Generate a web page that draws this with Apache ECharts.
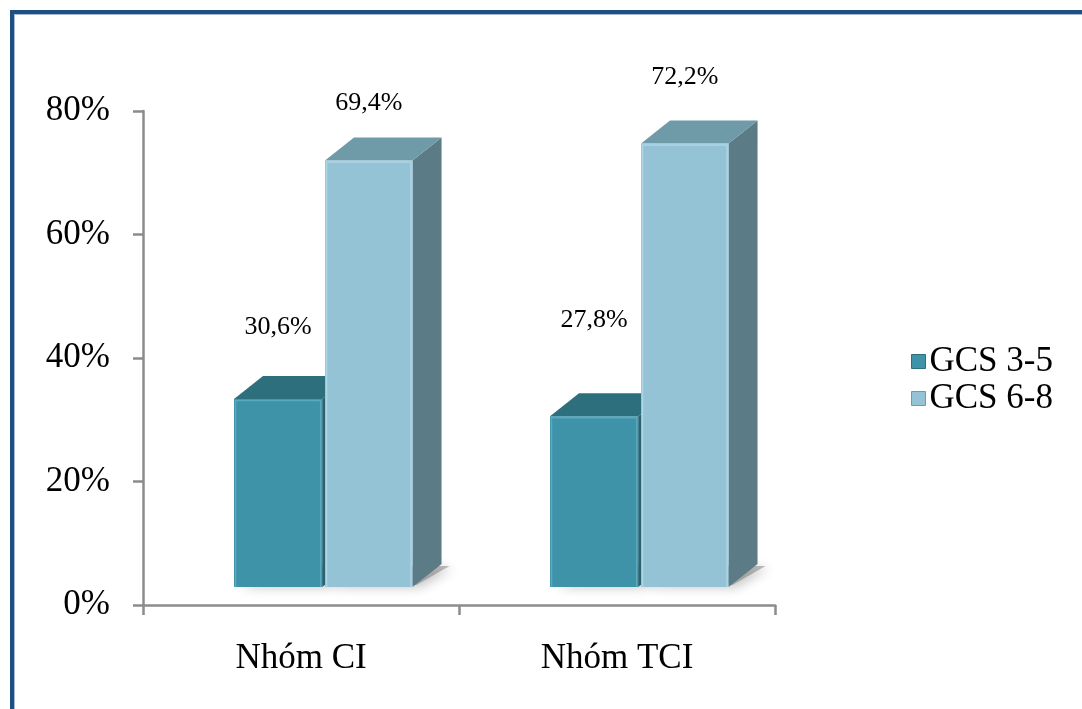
<!DOCTYPE html>
<html>
<head>
<meta charset="utf-8">
<script src="https://cdn.jsdelivr.net/npm/echarts@6/dist/echarts.min.js"></script>
<style>
  html, body { margin: 0; padding: 0; background: #ffffff; }
  #chart { width: 1082px; height: 709px; }
</style>
</head>
<body>
<div id="chart"></div>
<script>
// Groups on the category axis
const categories = ['Nhóm CI', 'Nhóm TCI'];
// Series names
const seriesNames = ['GCS 3-5', 'GCS 6-8'];
// Shares per group (fraction of patients)
const gcs35 = [0.306, 0.278];
const gcs68 = [0.694, 0.722];
// Value axis tick labels
const yTicks = ['0%', '20%', '40%', '60%', '80%'];

const SERIF = '"Liberation Serif", "DejaVu Serif", serif';

// Face colours of the prism bars: front, top, side
const palette = [
  { front: '#3e93a9', top: '#2e6f7e', side: '#2a6272', edge: '#5fb0c4', legend: '#3e93a9' },
  { front: '#94c3d6', top: '#6f9aa7', side: '#5b7b86', edge: '#b4dbe8', legend: '#94c3d6' }
];

// Bar geometry as fractions of the category band
const barLayout = [
  { left: -0.212, width: 0.279 },
  { left: 0.076, width: 0.277 }
];
const DEPTH_X = 29, DEPTH_Y = -23, FLOOR_LIFT = 18, FRONT_SCALE = 0.995;
// Vertical distance of each value label above its bar's front top edge
const labelLift = [[72, 96], [57, 66]];

function fmtPct(v) {
  return (v * 100).toFixed(1).replace('.', ',') + '%';
}

function makeRender(sIdx) {
  return function (params, api) {
    const cat = api.value(0);
    const val = api.value(1);
    const pTop = api.coord([cat, val]);
    const pZero = api.coord([cat, 0]);
    const band = api.size([1, 0])[0];
    const lay = barLayout[sIdx];
    const col = palette[sIdx];

    const xL = pZero[0] + lay.left * band;
    const xR = xL + lay.width * band;
    const yB = pZero[1] - FLOOR_LIFT;
    const yT = yB - (pZero[1] - pTop[1]) * FRONT_SCALE;
    const dx = DEPTH_X, dy = DEPTH_Y;

    const children = [];
    // soft floor shadow
    children.push({
      type: 'polygon',
      shape: { points: [[xL + 4, yB - 2], [xR + 4, yB - 2], [xR + dx + 8, yB + dy + 2], [xL + dx + 8, yB + dy + 2]] },
      style: { fill: 'rgba(110,110,110,0.45)', shadowBlur: 12, shadowColor: 'rgba(0,0,0,0.55)', shadowOffsetX: 3, shadowOffsetY: 2 },
      silent: true
    });
    // side face
    children.push({
      type: 'polygon',
      shape: { points: [[xR, yT], [xR + dx, yT + dy], [xR + dx, yB + dy], [xR, yB]] },
      style: { fill: col.side }
    });
    // top face
    children.push({
      type: 'polygon',
      shape: { points: [[xL, yT], [xL + dx, yT + dy], [xR + dx, yT + dy], [xR, yT]] },
      style: { fill: col.top }
    });
    // front face
    children.push({
      type: 'rect',
      shape: { x: xL, y: yT, width: xR - xL, height: yB - yT },
      style: { fill: col.front }
    });
    // bevel highlights along the front edges
    children.push({
      type: 'polyline',
      shape: { points: [[xL + 1.5, yB], [xL + 1.5, yT + 1.5], [xR - 1.5, yT + 1.5], [xR - 1.5, yB]] },
      style: { stroke: col.edge, lineWidth: 1.5, fill: null, opacity: 0.8 }
    });
    // value label
    children.push({
      type: 'text',
      style: {
        x: (xL + xR) / 2,
        y: yT - labelLift[sIdx][cat],
        text: fmtPct(val),
        font: '26px ' + SERIF,
        fill: '#000000',
        align: 'center',
        verticalAlign: 'middle'
      }
    });
    return { type: 'group', children: children };
  };
}

const seriesData = [gcs35, gcs68];

const chart = echarts.init(document.getElementById('chart'), null, { renderer: 'canvas' });
chart.setOption({
  animation: false,
  backgroundColor: '#ffffff',
  grid: { left: 143, right: 307, top: 111, bottom: 104, containLabel: false },
  xAxis: {
    type: 'category',
    data: categories,
    axisLine: { lineStyle: { color: '#8c8c8c', width: 2.5 } },
    axisTick: { show: true, length: 10, alignWithLabel: false, lineStyle: { color: '#8c8c8c', width: 2.5 } },
    axisLabel: { color: '#000000', fontFamily: SERIF, fontSize: 35, margin: 36 },
    splitLine: { show: false }
  },
  yAxis: {
    type: 'value',
    min: 0,
    max: 0.8,
    interval: 0.2,
    axisLine: { show: true, lineStyle: { color: '#8c8c8c', width: 2.5 } },
    axisTick: { show: true, length: 10, lineStyle: { color: '#8c8c8c', width: 2.5 } },
    axisLabel: {
      color: '#000000', fontFamily: SERIF, fontSize: 35, margin: 33,
      formatter: function (v) { return yTicks[Math.round(v / 0.2)]; }
    },
    splitLine: { show: false }
  },
  legend: {
    orient: 'vertical',
    left: 906,
    top: 339,
    itemWidth: 14,
    itemHeight: 14,
    itemGap: 2,
    icon: 'rect',
    textStyle: { color: '#000000', fontFamily: SERIF, fontSize: 35, lineHeight: 34, padding: [0, 0, 0, -1] },
    data: seriesNames.map(function (n, i) {
      return { name: n, itemStyle: { color: palette[i].legend, borderColor: palette[i].top, borderWidth: 1 } };
    })
  },
  series: seriesNames.map(function (name, i) {
    return {
      type: 'custom',
      name: name,
      coordinateSystem: 'cartesian2d',
      renderItem: makeRender(i),
      itemStyle: { color: palette[i].legend },
      encode: { x: 0, y: 1 },
      data: seriesData[i].map(function (v, c) { return [c, v]; }),
      clip: false,
      z: 2 + i
    };
  }),
  graphic: [
    { type: 'rect', left: 10, top: 10, shape: { width: 1072, height: 4 }, style: { fill: '#1f4e82' }, z: 10 },
    { type: 'rect', left: 14, top: 14, shape: { width: 1068, height: 1 }, style: { fill: '#a8bad3' }, z: 10 },
    { type: 'rect', left: 10, top: 10, shape: { width: 4, height: 699 }, style: { fill: '#1f4e82' }, z: 10 },
    { type: 'rect', left: 14, top: 14, shape: { width: 1, height: 695 }, style: { fill: '#a8bad3' }, z: 10 }
  ]
});
</script>
</body>
</html>
